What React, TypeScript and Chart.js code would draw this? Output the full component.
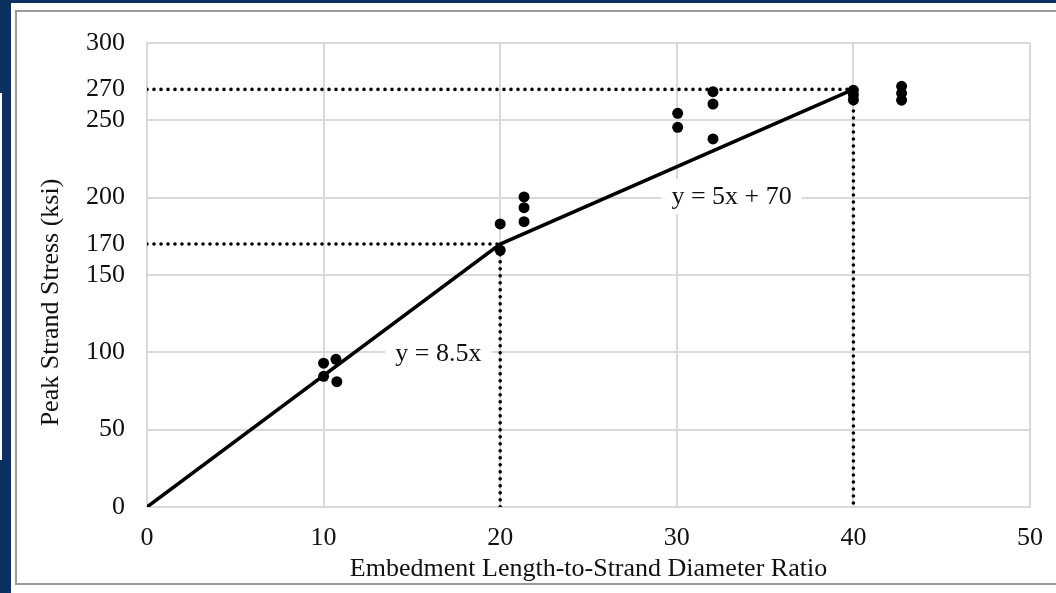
import React, { useEffect, useRef } from "react";
import { Chart, registerables } from "chart.js";

Chart.register(...registerables);

const xTicks = [0, 10, 20, 30, 40, 50];
const yTicks = [0, 50, 100, 150, 170, 200, 250, 270, 300];
const hiddenGridValues = [170, 270];

const testX = [10, 10.7, 10, 10.75, 20, 20, 21.35, 21.35, 21.35, 30.05, 30.05, 32.05, 32.05, 32.05, 40, 40, 40, 42.73, 42.73, 42.73];
const testY = [93, 95.5, 84.5, 81, 183, 166, 200.5, 193.5, 184.5, 254.5, 245.5, 268.5, 260.5, 238, 269.5, 266.5, 263.3, 272, 267.5, 263];

const modelX = [0, 20, 40];
const modelY = [0, 170, 270];

const guide170X = [0, 20, 20];
const guide170Y = [170, 170, 0];
const guide270X = [0, 40, 40];
const guide270Y = [270, 270, 0];

const eqText = ["y = 8.5x", "y = 5x + 70"];
const eqX = [16.5, 33.1];
const eqY = [99, 200.4];

const xTitle = "Embedment Length-to-Strand Diameter Ratio";
const yTitle = "Peak Strand Stress (ksi)";

const FONT = "'Liberation Serif', 'Times New Roman', serif";
const TEXT = "#111111";
const GRID = "#d9d9d9";
const CLEAR = "rgba(0,0,0,0)";

const toPts = (xs: number[], ys: number[]) => xs.map((x, i) => ({ x, y: ys[i] }));

const eqPlugin = {
  id: "eqLabels",
  beforeDatasetsDraw(chart: any) {
    const { ctx, scales } = chart;
    const xs = scales.x;
    const ys = scales.y;
    ctx.save();
    ctx.font = `26px ${FONT}`;
    ctx.textAlign = "center";
    ctx.textBaseline = "middle";
    eqText.forEach((t, i) => {
      const px = xs.getPixelForValue(eqX[i]);
      const py = ys.getPixelForValue(eqY[i]);
      const w = ctx.measureText(t).width;
      ctx.fillStyle = "#ffffff";
      ctx.fillRect(px - w / 2 - 10, py - 18, w + 20, 35);
      ctx.fillStyle = TEXT;
      ctx.fillText(t, px, py);
    });
    ctx.restore();
  },
};

const yTitlePlugin = {
  id: "yTitle",
  afterDraw(chart: any) {
    const { ctx, chartArea, height } = chart;
    ctx.save();
    ctx.font = `26px ${FONT}`;
    ctx.fillStyle = TEXT;
    ctx.textAlign = "center";
    ctx.textBaseline = "middle";
    ctx.translate(chartArea.left - 96, height / 2 + 6);
    ctx.rotate(-Math.PI / 2);
    ctx.fillText(yTitle, 0, 0);
    ctx.restore();
  },
};

export default function App() {
  const ref = useRef<HTMLCanvasElement | null>(null);

  useEffect(() => {
    if (!ref.current) return;
    const chart = new Chart(ref.current, {
      type: "scatter",
      data: {
        datasets: [
          {
            label: "Test data",
            data: toPts(testX, testY),
            backgroundColor: "#000000",
            borderColor: "#000000",
            pointRadius: 5.5,
            pointBorderWidth: 0,
            showLine: false,
            order: 0,
          },
          {
            label: "Model",
            data: toPts(modelX, modelY),
            borderColor: "#000000",
            borderWidth: 3.5,
            pointRadius: 0,
            showLine: true,
            order: 1,
          },
          {
            label: "170",
            data: toPts(guide170X, guide170Y),
            borderColor: "#000000",
            borderWidth: 3.6,
            borderDash: [0, 7],
            borderCapStyle: "round",
            pointRadius: 0,
            showLine: true,
            order: 2,
          },
          {
            label: "270",
            data: toPts(guide270X, guide270Y),
            borderColor: "#000000",
            borderWidth: 3.6,
            borderDash: [0, 7],
            borderCapStyle: "round",
            pointRadius: 0,
            showLine: true,
            order: 3,
          },
        ],
      },
      options: {
        responsive: false,
        animation: false,
        devicePixelRatio: 1,
        layout: { padding: { left: 0, right: 26, top: 43, bottom: 0 } },
        plugins: { legend: { display: false }, tooltip: { enabled: false } },
        scales: {
          x: {
            type: "linear",
            min: 0,
            max: 50,
            afterBuildTicks: (s: any) => {
              s.ticks = xTicks.map((v) => ({ value: v }));
            },
            afterFit: (s: any) => {
              s.height = 86;
            },
            grid: { color: GRID, lineWidth: 2, drawTicks: true, tickLength: 16, tickColor: CLEAR },
            border: { color: GRID, width: 2 },
            ticks: { color: TEXT, font: { family: FONT, size: 26 }, padding: 0, maxRotation: 0 },
            title: {
              display: true,
              text: xTitle,
              color: TEXT,
              font: { family: FONT, size: 26 },
              padding: { top: 0, bottom: 8 },
            },
          },
          y: {
            type: "linear",
            min: 0,
            max: 300,
            afterBuildTicks: (s: any) => {
              s.ticks = yTicks.map((v) => ({ value: v }));
            },
            afterFit: (s: any) => {
              s.width = 147;
            },
            grid: {
              color: (c: any) => (c.tick && hiddenGridValues.includes(c.tick.value) ? CLEAR : GRID),
              lineWidth: 2,
              drawTicks: false,
            },
            border: { color: GRID, width: 2 },
            ticks: { color: TEXT, font: { family: FONT, size: 26 }, padding: 22, autoSkip: false },
            title: { display: false },
          },
        },
      },
      plugins: [eqPlugin, yTitlePlugin],
    } as any);
    return () => chart.destroy();
  }, []);

  return (
    <div style={{ position: "fixed", left: 0, top: 0, width: 1056, height: 593, background: "#0b3160", overflow: "hidden" }}>
      <div style={{ position: "absolute", left: 0, top: 93, width: 2, height: 367, background: "#ffffff" }} />
      <div style={{ position: "absolute", left: 11, top: 3, width: 1045, height: 590, background: "#ffffff" }} />
      <div
        style={{
          position: "absolute",
          left: 15,
          top: 10,
          width: 1060,
          height: 575,
          border: "2px solid #9a9a9a",
          boxSizing: "border-box",
        }}
      />
      <canvas ref={ref} width={1056} height={593} style={{ position: "absolute", left: 0, top: 0, width: 1056, height: 593 }} />
    </div>
  );
}
